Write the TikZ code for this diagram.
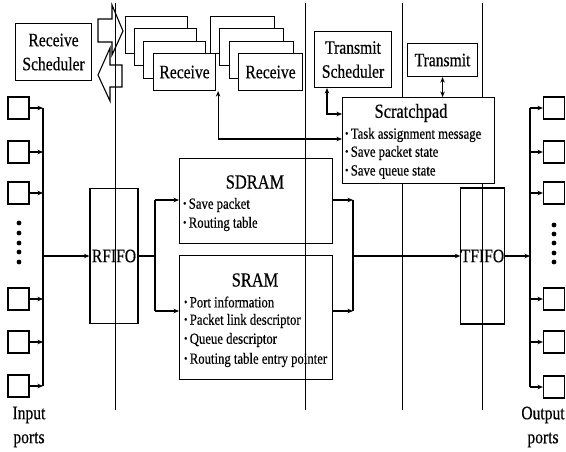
\documentclass[tikz,border=0pt]{standalone}
\usepackage{fontspec}
\setmainfont{Liberation Serif}[FakeStretch=0.82,FakeBold=0.4]
\usetikzlibrary{arrows.meta,calc}

% small list bullet
\newcommand\bul{\raisebox{0.25ex}{\scalebox{0.7}{\textbullet}}\hspace{2.5pt}}

\begin{document}
\begin{tikzpicture}[x=1pt,y=-1pt]
\tikzset{
  blk/.style={draw,line width=1.1pt,inner sep=0pt,anchor=north west},
  lbl/.style={font=\fontsize{19}{24}\selectfont,align=center},
  ttl/.style={font=\fontsize{20}{20}\selectfont,inner sep=0pt},
  itm/.style={font=\fontsize{15.5}{16}\selectfont,inner sep=0pt,anchor=west},
  lane/.style={line width=0.9pt},
  wire/.style={line width=1.2pt},
  arr/.style={wire,-{Stealth[length=5.5pt,width=4.5pt]}},
  darr/.style={wire,{Stealth[length=5.5pt,width=4.5pt]}-{Stealth[length=5.5pt,width=4.5pt]}},
  port/.style={draw,line width=1.1pt,inner sep=0pt,minimum width=21pt,minimum height=22pt},
  dotn/.style={circle,fill,inner sep=0pt,minimum size=4.8pt},
  recv/.style={blk,fill=white,minimum height=37pt},
  fifo/.style={draw,line width=1.1pt,inner sep=0pt,font=\fontsize{19}{20}\selectfont}
}
\useasboundingbox (0,0) rectangle (566,452);
\clip (0,0) rectangle (566,452);

% lane dividers
\draw[lane] (115,3) -- (115,410);
\draw[lane] (305,3) -- (305,410);
\draw[lane] (402,3) -- (402,410);
\draw[lane] (482,3) -- (482,410);

% receive scheduler and its block arrows
\node[blk,lbl,minimum width=76pt,minimum height=57pt] (rsch) at (15,23) {Receive\\Scheduler};
\draw[line width=1.1pt] (98,19) -- (112,19) -- (112,5) -- (123,31) -- (112,55) -- (112,42) -- (98,42) -- cycle;
\draw[line width=1.1pt] (122,65) -- (110,65) -- (110,48) -- (98,75) -- (110,101) -- (110,87) -- (122,87) -- cycle;

% receive engines, two stacks
\node[recv,minimum width=64pt] (rB1) at (210,16) {};
\node[recv,minimum width=64pt] (rB2) at (219,28) {};
\node[recv,minimum width=64pt] (rB3) at (229,41) {};
\node[recv,minimum width=64pt,lbl] (rB4) at (238,53) {Receive};
\node[recv,minimum width=62pt] (rA1) at (125,16) {};
\node[recv,minimum width=62pt] (rA2) at (134,28) {};
\node[recv,minimum width=62pt] (rA3) at (143,41) {};
\node[recv,minimum width=62pt,lbl] (rA4) at (153,53) {Receive};

% transmit side
\node[blk,lbl,minimum width=77pt,minimum height=56pt] (tsch) at (314,31) {Transmit\\Scheduler};
\node[blk,lbl,minimum width=70pt,minimum height=33pt] (tx) at (407,43) {Transmit};

% scratchpad
\node[blk,fill=white,minimum width=152pt,minimum height=86pt] (scr) at (342,97) {};
\node[ttl] (scrT) at (411,113) {Scratchpad};
\node[itm] (scr1) at (345,135) {\bul Task assignment message};
\node[itm] (scr2) at (345,153) {\bul Save packet state};
\node[itm] (scr3) at (345,172) {\bul Save queue state};

\draw[darr] ([xshift=2pt]rA4.south east) |- ([yshift=-42pt]scr.north west);
\draw[darr] ([xshift=13pt]tsch.south west) |- ([yshift=-17pt]scr.north west);
\draw[darr] (tx.south) -- (tx.south |- scr.north);

% memories
\node[blk,minimum width=153pt,minimum height=85pt] (sdram) at (179,158) {};
\node[ttl] (sdramT) at (255,182) {SDRAM};
\node[itm] (sd1) at (183,205) {\bul Save packet};
\node[itm] (sd2) at (183,224) {\bul Routing table};

\node[blk,minimum width=153pt,minimum height=124pt] (sram) at (179,255) {};
\node[ttl] (sramT) at (255,280) {SRAM};
\node[itm] (sr1) at (184,302) {\bul Port information};
\node[itm] (sr2) at (184,321) {\bul Packet link descriptor};
\node[itm] (sr3) at (184,340) {\bul Queue descriptor};
\node[itm] (sr4) at (184,360) {\bul Routing table entry pointer};

% FIFOs
\node[fifo,minimum width=48pt,minimum height=135pt] (rfifo) at (114,256) {RFIFO};
\node[fifo,minimum width=43pt,minimum height=136pt] (tfifo) at (482.5,256) {TFIFO};

% input ports
\foreach \y [count=\i] in {108,152,193,299,342,386} {
  \node[port] (in\i) at (18.5,\y) {};
  \coordinate (ib\i) at (43,\y);
  \draw[arr] (in\i.east) -- (ib\i);
}
\draw[wire] (ib1) -- (ib6);
\foreach \y [count=\i] in {223,233,243,252,262} \node[dotn] (ind\i) at (19,\y) {};
\node[lbl,inner sep=0pt] (inl) at (29,427) {Input\\ports};

% output ports
\foreach \y [count=\i] in {108,152,193,299,342,387} {
  \node[port] (out\i) at (554,\y) {};
  \coordinate (ob\i) at (530,\y);
  \draw[arr] (ob\i) -- (out\i.west);
}
\draw[wire] (ob1) -- (ob6);
\foreach \y [count=\i] in {225,234,243,253,262} \node[dotn] (outd\i) at (554,\y) {};
\node[lbl,inner sep=0pt] (outl) at (543,427) {Output\\ports};

% data path
\coordinate (ij) at (43,256);
\draw[arr] (ij) -- (rfifo.west);
\coordinate (sp) at (155,256);
\coordinate (sp1) at (155,200);
\coordinate (sp2) at (155,311);
\draw[wire] (rfifo.east) -- (sp);
\draw[wire] (sp1) -- (sp2);
\draw[arr] (sp1) -- (sp1 -| sdram.west);
\draw[arr] (sp2) -- (sp2 -| sram.west);

\coordinate (mg1) at (353,200);
\coordinate (mg2) at (353,311);
\coordinate (mj) at (353,256);
\draw[arr] (mg1 -| sdram.east) -- (mg1);
\draw[arr] (mg2 -| sram.east) -- (mg2);
\draw[wire] (mg1) -- (mg2);
\draw[arr] (mj) -- (mj -| tfifo.west);

\coordinate (oj) at (530,256);
\draw[arr] (tfifo.east) -- (oj);
\end{tikzpicture}
\end{document}
